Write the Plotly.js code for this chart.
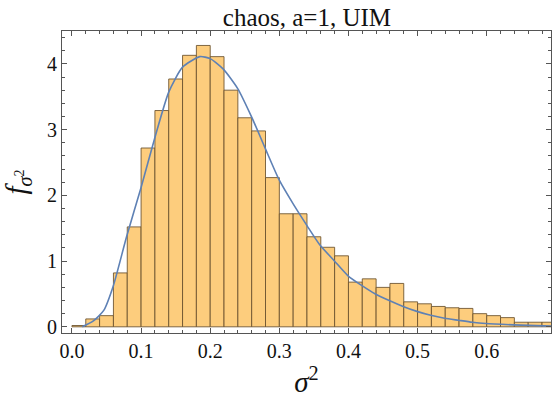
<!DOCTYPE html>
<html>
<head>
<meta charset="utf-8">
<script src="https://cdn.plot.ly/plotly-3.0.1.min.js"></script>
<style>html,body{margin:0;padding:0;background:#fff;}#chart{width:552px;height:403px;}</style>
</head>
<body>
<div id="chart"></div>
<script>
// Histogram: bin width and heights (density)
const binWidth = 0.02;
const binStart = 0.0;
const heights = [0.02, 0.12, 0.17, 0.82, 1.52, 2.72, 3.29, 3.77, 4.13, 4.28,
                 4.11, 3.60, 3.18, 2.98, 2.27, 1.72, 1.72, 1.37, 1.21, 1.08,
                 0.68, 0.73, 0.60, 0.66, 0.38, 0.35, 0.31, 0.29, 0.28, 0.20,
                 0.17, 0.14, 0.07, 0.07, 0.07];
// Fitted density curve
const curveX = [0.015, 0.031, 0.046, 0.060, 0.079, 0.100, 0.120, 0.140, 0.160, 0.185,
                0.200, 0.219, 0.240, 0.260, 0.279, 0.300, 0.320, 0.340, 0.359, 0.379,
                0.399, 0.419, 0.439, 0.459, 0.479, 0.499, 0.519, 0.539, 0.559, 0.579,
                0.599, 0.639, 0.693];
const curveY = [0.00, 0.09, 0.25, 0.63, 1.37, 2.12, 2.88, 3.57, 3.95, 4.11,
                4.08, 3.92, 3.62, 3.19, 2.73, 2.23, 1.87, 1.54, 1.24, 1.01,
                0.78, 0.63, 0.50, 0.40, 0.31, 0.235, 0.175, 0.13, 0.10, 0.07,
                0.05, 0.03, 0.01];
const xTicks = [0.0, 0.1, 0.2, 0.3, 0.4, 0.5, 0.6];
const yTicks = [0, 1, 2, 3, 4];

const binCenters = heights.map((_, i) => binStart + binWidth * (i + 0.5));

const serif = "'Liberation Serif', 'DejaVu Serif', serif";
const frame = "#555555";

const data = [
  {
    type: "bar",
    x: binCenters,
    y: heights,
    width: binWidth,
    marker: {color: "rgb(253,205,125)", line: {color: "rgba(105,80,45,0.85)", width: 1}},
    hoverinfo: "skip"
  },
  {
    type: "scatter",
    mode: "lines",
    x: curveX,
    y: curveY,
    line: {color: "#5E81B5", width: 1.6, shape: "spline", smoothing: 0.6},
    hoverinfo: "skip"
  }
];

const axisCommon = {
  showline: true, linecolor: frame, linewidth: 1, mirror: "ticks",
  ticks: "inside", tickcolor: frame, ticklen: 5, tickwidth: 1,
  showgrid: false, zeroline: false, automargin: false,
  tickfont: {family: serif, size: 20, color: "#111"}
};

const layout = {
  width: 552, height: 403,
  margin: {l: 62, r: 1, t: 31, b: 70},
  paper_bgcolor: "#fff", plot_bgcolor: "#fff",
  showlegend: false,
  bargap: 0,
  font: {family: serif},
  title: {text: "chaos, a=1, UIM", font: {family: serif, size: 25, color: "#111"},
          x: 0.556, xanchor: "center", y: 0.957, yanchor: "middle", yref: "container"},
  xaxis: Object.assign({}, axisCommon, {
    range: [-0.0144, 0.693],
    tickvals: xTicks, ticktext: xTicks.map(v => v.toFixed(1)),
    minor: {dtick: 0.02, tick0: 0, ticks: "inside", ticklen: 3, tickcolor: frame, showgrid: false},
    title: {text: "<i>σ</i><sup>2</sup>", font: {family: serif, size: 29, color: "#111"}, standoff: 10}
  }),
  yaxis: Object.assign({}, axisCommon, {
    range: [-0.094, 4.5],
    tickvals: yTicks, ticktext: yTicks.map(String),
    minor: {dtick: 0.2, tick0: 0, ticks: "inside", ticklen: 3, tickcolor: frame, showgrid: false},
    title: {text: "<i>f</i><sub><i>σ</i><sup>2</sup></sub>", font: {family: serif, size: 29, color: "#111"}, standoff: 13}
  })
};

Plotly.newPlot("chart", data, layout, {staticPlot: true, displayModeBar: false});
</script>
</body>
</html>
